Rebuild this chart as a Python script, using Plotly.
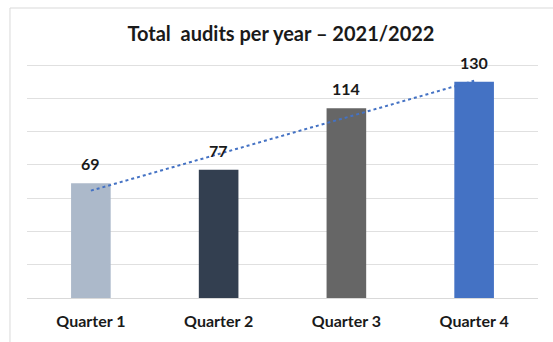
import numpy as np
import plotly.graph_objects as go

categories = ["Quarter 1", "Quarter 2", "Quarter 3", "Quarter 4"]
audits = [69, 77, 114, 130]
bar_colors = ["#ACB9CA", "#333F50", "#666666", "#4472C4"]
title_text = "Total  audits per year \u2013 2021/2022"

# linear trendline (least squares) computed from the data
xi = np.arange(1, len(audits) + 1)
slope, intercept = np.polyfit(xi, audits, 1)
trend = slope * xi + intercept

fig = go.Figure()
fig.add_trace(go.Bar(x=categories, y=audits, marker=dict(color=bar_colors, line=dict(width=0)),
                     showlegend=False, hoverinfo="skip"))
fig.add_trace(go.Scatter(x=categories, y=trend, mode="lines",
                         line=dict(color="#4472C4", width=2, dash="dot"),
                         showlegend=False, hoverinfo="skip"))

for c, v in zip(categories, audits):
    fig.add_annotation(x=c, y=v, text=f"<b>{v}</b>", showarrow=False, yanchor="bottom",
                       yshift=8, font=dict(family="Lato", size=16, color="#1a1a1a"))

fig.add_shape(type="rect", xref="paper", yref="paper", x0=-0.0333, x1=1.2, y0=-0.5, y1=1.234,
              line=dict(color="#D9D9D9", width=1), fillcolor="rgba(0,0,0,0)", layer="below")

fig.update_layout(
    width=553, height=342,
    margin=dict(l=27, r=15, t=63, b=40),
    paper_bgcolor="white", plot_bgcolor="white",
    bargap=0.69,
    title=dict(text=f"<b>{title_text}</b>", x=0.508, xanchor="center", y=1 - 34 / 342, yanchor="middle",
               yref="container", font=dict(family="Lato", size=20, color="#1a1a1a")),
    xaxis=dict(showgrid=False, showline=False, ticks="outside", ticklen=9, tickcolor="rgba(0,0,0,0)",
               tickfont=dict(family="Lato", size=16, color="#1a1a1a"), tickprefix="<b>", ticksuffix="</b>"),
    yaxis=dict(range=[0, 141.2], tickvals=[0, 20, 40, 60, 80, 100, 120, 140], showgrid=True,
               gridcolor="#E0E0E0", gridwidth=1,
               showticklabels=False, zeroline=True, zerolinecolor="#D9D9D9", zerolinewidth=1),
)

fig.write_html("out.html")
